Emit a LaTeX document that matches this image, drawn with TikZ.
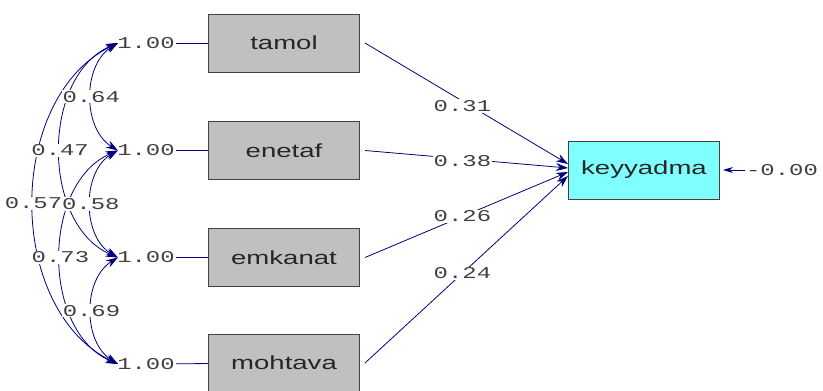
\documentclass[tikz,border=0pt]{standalone}
\usepackage{fontspec}
\setmainfont{Liberation Sans}
\newfontfamily\coeffont{Liberation Mono}
\usetikzlibrary{%
  arrows.meta%
}
\definecolor{pathblue}{RGB}{0,0,128}
\definecolor{obsgray}{RGB}{192,192,192}
\definecolor{latcyan}{RGB}{128,255,255}
\newcommand{\wide}[1]{\scalebox{1.45}[1]{#1}}

\begin{document}
\begin{tikzpicture}
[x=1pt, y=1pt, line width=0.8pt, >={Stealth[length=12pt,width=8pt]},
measbox/.style={rectangle, draw=black!75, line width=1pt, fill=obsgray, minimum width=151pt, minimum height=58pt, inner sep=0pt, text=black!85, font=\fontsize{19}{19}\selectfont},
coef/.style={inner sep=1pt, fill=white, text=black!75, font=\coeffont\fontsize{16.5}{16.5}\selectfont},
variance/.style={coef, fill=none},
link/.style={draw=pathblue},
effect/.style={->, draw=pathblue},
covar/.style={<->, draw=pathblue}]

\useasboundingbox (0,0) rectangle (823,-391);

\node[measbox, fill=latcyan] (keyyadma) at (644,-170) {\wide{keyyadma}};
\node[measbox] (tamol) at (284,-43) {\wide{tamol}};
\node[measbox] (enetaf) at (284,-150.5) {\wide{enetaf}};
\node[measbox] (emkanat) at (284,-257.5) {\wide{emkanat}};
\node[measbox] (mohtava) at (284,-363) {\wide{mohtava}};

\node[variance] (v1) at (146,-43) {\wide{1.00}}
  edge [link] (tamol);
\node[variance] (v2) at (146,-150.5) {\wide{1.00}}
  edge [link] (enetaf);
\node[variance] (v3) at (146,-257.5) {\wide{1.00}}
  edge [link] (emkanat);
\node[variance] (v4) at (146,-364) {\wide{1.00}}
  edge [link] (mohtava);

\draw[covar] ([xshift=2pt]v1.west) to[bend right=64] node[coef] {\wide{0.57}} ([xshift=2pt]v4.west);
\draw[covar] ([xshift=2pt]v1.west) to[bend right=67] node[coef] {\wide{0.47}} ([xshift=2pt]v3.west);
\draw[covar] ([xshift=2pt]v2.west) to[bend right=67] node[coef] {\wide{0.73}} ([xshift=2pt]v4.west);
\draw[covar] ([xshift=2pt]v1.west) to[bend right=58] node[coef] {\wide{0.64}} ([xshift=2pt]v2.west);
\draw[covar] ([xshift=2pt]v2.west) to[bend right=60] node[coef] {\wide{0.58}} ([xshift=2pt]v3.west);
\draw[covar] ([xshift=2pt]v3.west) to[bend right=58] node[coef] {\wide{0.69}} ([xshift=2pt]v4.west);

\path ([xshift=5pt]tamol.east) edge [effect] node[coef, pos=0.48, yshift=-5pt] {\wide{0.31}} ([yshift=6pt]keyyadma.west);
\path ([xshift=5pt]enetaf.east) edge [effect] node[coef, pos=0.48, yshift=-2pt] {\wide{0.38}} ([yshift=2pt]keyyadma.west);
\path ([xshift=5pt]emkanat.east) edge [effect] node[coef, pos=0.48] {\wide{0.26}} ([yshift=-2pt]keyyadma.west);
\path ([xshift=5pt]mohtava.east) edge [effect] node[coef, pos=0.48] {\wide{0.24}} ([yshift=-6pt]keyyadma.west);

\node[variance] (res) at (782,-170) {\wide{-0.00}}
  edge [effect, >={Stealth[length=10pt,width=6pt]}, shorten >=3pt] (keyyadma);
\end{tikzpicture}
\end{document}
